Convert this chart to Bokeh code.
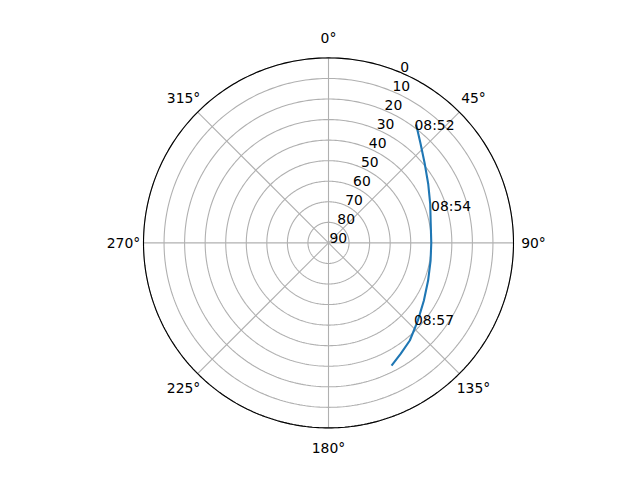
import numpy as np
from bokeh.plotting import figure
from bokeh.models import Range1d
from bokeh.core.properties import value
from bokeh.embed import file_html
from bokeh.resources import INLINE

# --- data (satellite pass: azimuth / elevation in degrees) ---
pass_az = [36.5, 42.9, 50.6, 59.3, 69.0, 79.4, 90.0, 99.8, 110.7, 121.1, 131.0, 140.2, 147.0, 152.8]
pass_el = [18.3, 24.2, 29.4, 33.6, 37.0, 39.4, 40.0, 39.6, 38.2, 35.8, 32.4, 28.2, 25.6, 22.9]

time_labels = ["08:52", "08:54", "08:57"]
time_az = [36.4, 70.4, 131.9]
time_el = [18.7, 36.5, 33.5]

theta_ticks = [0, 45, 90, 135, 180, 225, 270, 315]
theta_labels = ["0°", "45°", "90°", "135°", "180°", "225°", "270°", "315°"]
r_ticks = [0, 10, 20, 30, 40, 50, 60, 70, 80, 90]
r_tick_labels = ["0", "10", "20", "30", "40", "50", "60", "70", "80", "90"]
r_label_angle = 22.5

RMAX = 90.0


def to_xy(az, el):
    az = np.radians(np.asarray(az, dtype=float))
    r = RMAX - np.asarray(el, dtype=float)
    return r * np.sin(az), r * np.cos(az)


W, H = 624, 464
PX_PER_UNIT = 185.0 / RMAX
CX, CY = 328.0, 242.4  # center in pixel coords from top-left

p = figure(width=W, height=H,
           x_range=Range1d(-CX / PX_PER_UNIT, (W - CX) / PX_PER_UNIT),
           y_range=Range1d(-(H - CY) / PX_PER_UNIT, CY / PX_PER_UNIT),
           output_backend="svg", toolbar_location=None,
           x_axis_type=None, y_axis_type=None, min_border=0,
           outline_line_color=None, background_fill_color="white",
           border_fill_color="white")

GRID = "#b0b0b0"
FONT = value("DejaVu Sans")
FS = "13.9px"

# radial grid circles
phi = np.linspace(0, 2 * np.pi, 361)
for rv in r_ticks:
    rr = RMAX - rv
    if rr <= 0:
        continue
    p.line(rr * np.sin(phi), rr * np.cos(phi), line_color=GRID, line_width=1.1)

# angular grid lines
for t in theta_ticks:
    tx, ty = to_xy([t, t], [RMAX, 0])
    p.line(tx, ty, line_color=GRID, line_width=1.1)

# outer spine
p.line(RMAX * np.sin(phi), RMAX * np.cos(phi), line_color="black", line_width=1.1)

# pass curve
px_, py_ = to_xy(pass_az, pass_el)
p.line(px_, py_, line_color="#1f77b4", line_width=2.1)

# time labels
lx, ly = to_xy(time_az, time_el)
p.text(x=lx, y=ly, text=time_labels, text_font=FONT, text_font_size=FS,
       text_align="left", text_baseline="alphabetic", text_color="black", x_offset=-1)

# theta tick labels
r_lab = 205.0 / PX_PER_UNIT
th = np.radians(theta_ticks)
p.text(x=r_lab * np.sin(th), y=r_lab * np.cos(th), text=theta_labels,
       text_font=FONT, text_font_size=FS, text_align="center",
       text_baseline="middle", text_color="black")

# radial tick labels
ra = np.radians(r_label_angle)
rr = RMAX - np.asarray(r_ticks, dtype=float)
p.text(x=rr * np.sin(ra), y=rr * np.cos(ra), text=r_tick_labels,
       text_font=FONT, text_font_size=FS, text_align="left",
       text_baseline="bottom", text_color="black", x_offset=1)

open("out.html", "w").write(file_html(p, INLINE))
